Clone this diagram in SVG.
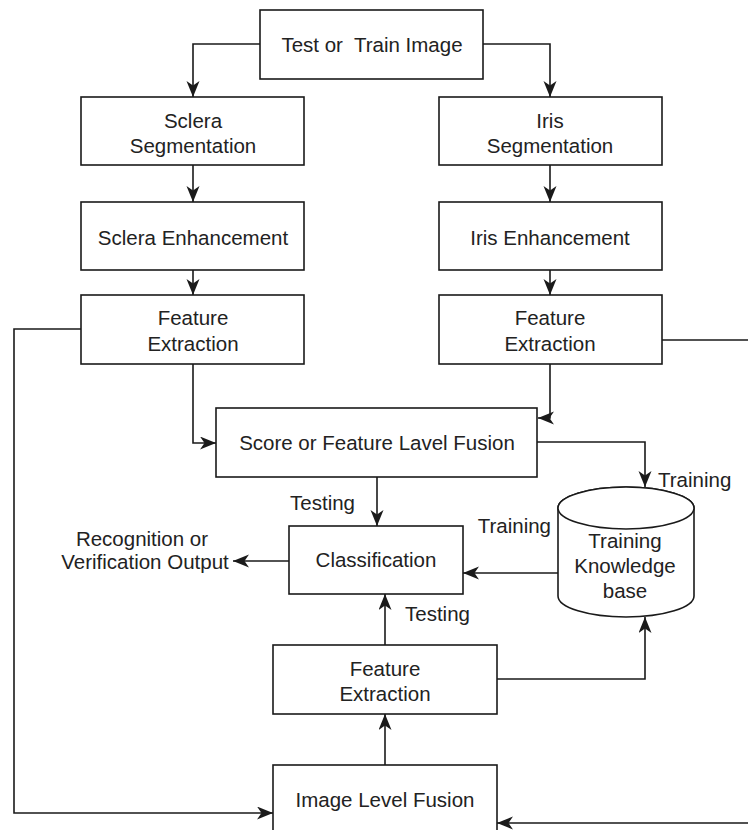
<svg xmlns="http://www.w3.org/2000/svg" width="748" height="830" viewBox="0 0 748 830">
<style>
.box{fill:#fff;stroke:#1a1a1a;stroke-width:1.6}
.t{font-family:"Liberation Sans",Arial,sans-serif;font-size:20.5px;fill:#222;text-anchor:middle}
.l{font-family:"Liberation Sans",Arial,sans-serif;font-size:20.5px;fill:#222}
.c{fill:none;stroke:#1a1a1a;stroke-width:1.6}
</style>
<defs>
<marker id="ah" markerUnits="userSpaceOnUse" markerWidth="18" markerHeight="15" refX="16" refY="6.5" orient="auto">
<path d="M0,0 L16,6.5 L0,13 L4.5,6.5 z" fill="#1a1a1a"/>
</marker>
</defs>
<rect width="748" height="830" fill="#fff"/>
<g id="connectors">
<path class="c" d="M260 44 H193 V97" marker-end="url(#ah)"/>
<path class="c" d="M483 44 H550 V97" marker-end="url(#ah)"/>
<path class="c" d="M193 165 V202" marker-end="url(#ah)"/>
<path class="c" d="M550 165 V202" marker-end="url(#ah)"/>
<path class="c" d="M193 270 V295" marker-end="url(#ah)"/>
<path class="c" d="M550 270 V295" marker-end="url(#ah)"/>
<path class="c" d="M193 364 V443 H216" marker-end="url(#ah)"/>
<path class="c" d="M550 364 V418 H538" marker-end="url(#ah)"/>
<path class="c" d="M81 329 H14 V813 H273" marker-end="url(#ah)"/>
<path class="c" d="M662 340 H752 V823 H497" marker-end="url(#ah)"/>
<path class="c" d="M537 442 H645 V487" marker-end="url(#ah)"/>
<path class="c" d="M377 477 V526" marker-end="url(#ah)"/>
<path class="c" d="M289 561 H233" marker-end="url(#ah)"/>
<path class="c" d="M558 573 H463" marker-end="url(#ah)"/>
<path class="c" d="M385 645 V594" marker-end="url(#ah)"/>
<path class="c" d="M497 679 H645 V617" marker-end="url(#ah)"/>
<path class="c" d="M385 765 V714" marker-end="url(#ah)"/>
</g>
<g id="test-train-image">
<rect class="box" x="260" y="10" width="223" height="69"/>
<text class="t" x="372" y="52" xml:space="preserve">Test or  Train Image</text>
</g>
<g id="sclera-segmentation">
<rect class="box" x="81" y="97" width="223" height="68"/>
<text class="t" x="193" y="128">Sclera</text>
<text class="t" x="193" y="153">Segmentation</text>
</g>
<g id="iris-segmentation">
<rect class="box" x="439" y="97" width="223" height="68"/>
<text class="t" x="550" y="128">Iris</text>
<text class="t" x="550" y="153">Segmentation</text>
</g>
<g id="sclera-enhancement">
<rect class="box" x="81" y="202" width="223" height="68"/>
<text class="t" x="193" y="245">Sclera Enhancement</text>
</g>
<g id="iris-enhancement">
<rect class="box" x="439" y="202" width="223" height="68"/>
<text class="t" x="550" y="245">Iris Enhancement</text>
</g>
<g id="sclera-feature-extraction">
<rect class="box" x="81" y="295" width="223" height="69"/>
<text class="t" x="193" y="325">Feature</text>
<text class="t" x="193" y="351">Extraction</text>
</g>
<g id="iris-feature-extraction">
<rect class="box" x="439" y="295" width="223" height="69"/>
<text class="t" x="550" y="325">Feature</text>
<text class="t" x="550" y="351">Extraction</text>
</g>
<g id="score-fusion">
<rect class="box" x="216" y="408" width="321" height="69"/>
<text class="t" x="377" y="450">Score or Feature Lavel Fusion</text>
</g>
<g id="classification">
<rect class="box" x="289" y="526" width="174" height="68"/>
<text class="t" x="376" y="567">Classification</text>
</g>
<g id="knowledge-base">
<path class="box" d="M558 508 V596 A68 21 0 0 0 694 596 V508 A68 21 0 0 0 558 508 Z"/>
<ellipse class="box" cx="626" cy="508" rx="68" ry="21"/>
<text class="t" x="625" y="548">Training</text>
<text class="t" x="625" y="573">Knowledge</text>
<text class="t" x="625" y="598">base</text>
</g>
<g id="feature-extraction-fused">
<rect class="box" x="273" y="645" width="224" height="69"/>
<text class="t" x="385" y="676">Feature</text>
<text class="t" x="385" y="701">Extraction</text>
</g>
<g id="image-level-fusion">
<rect class="box" x="273" y="765" width="224" height="90"/>
<text class="t" x="385" y="807">Image Level Fusion</text>
</g>
<g id="labels">
<text class="l" x="658" y="487">Training</text>
<text class="l" x="355" y="510" text-anchor="end">Testing</text>
<text class="l" x="551" y="533" text-anchor="end">Training</text>
<text class="l" x="405" y="621">Testing</text>
<text class="t" x="142" y="546">Recognition or</text>
<text class="t" x="145" y="569">Verification Output</text>
</g>
</svg>
